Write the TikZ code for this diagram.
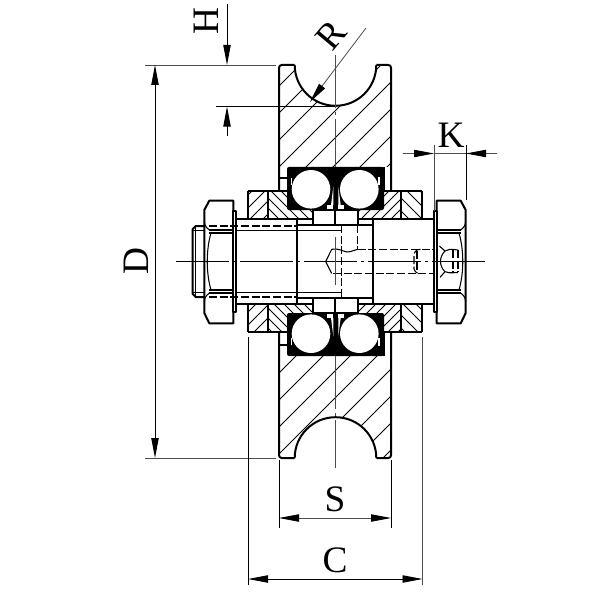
\documentclass[tikz,border=0pt]{standalone}
\usepackage{fontspec}
\setmainfont{Liberation Serif}
\usetikzlibrary{arrows.meta}
\tikzset{part/.style={line width=1.5pt, line join=round}}
\tikzset{thinpart/.style={line width=0.8pt}}
\tikzset{hatchline/.style={line width=0.6pt}}
\tikzset{hidden/.style={line width=0.8pt, dash pattern=on 6pt off 2pt}}
\tikzset{axis/.style={line width=0.6pt, dash pattern=on 40pt off 3pt on 2pt off 3pt}}
\tikzset{dimline/.style={line width=0.6pt, draw=black!70}}
\tikzset{dimblack/.style={line width=0.7pt}}
\tikzset{dimtip/.tip={Stealth[length=15pt, width=5.5pt, inset=0pt, color=black]}}
\tikzset{dimlabel/.style={inner sep=0pt, font=\fontsize{28}{28}\selectfont}}

% region, then direction of the lines, then first, second and last crossing of y=0
\newcommand{\hatchregion}[5]{
	\begin{scope}
		\clip #1;
		\foreach \k in {#3,#4,...,#5} \draw[hatchline] (\k,0) -- ++(#2*600,600);
	\end{scope}
}

% upper half of bearing and shaft, drawn again mirrored
\newcommand{\bearinghalf}{
	\fill[rounded corners=1.5] (287,167) rectangle (384,210);
	\fill[white] (311,189.3) circle[radius=19.3];
	\fill[white] (359.3,189.3) circle[radius=19.3];
	\fill[white] (333.3,186.7) -- (331,205) -- (333.3,205) -- cycle;
	\fill[white] (338.3,186.7) -- (340.7,205) -- (338.3,205) -- cycle;
	\fill[white] (327,205) rectangle (333.3,210);
	\fill[white] (338.3,205) rectangle (344,210);
	\fill[white] (290.6,178) rectangle (291.8,185);
	\fill[white] (378.4,177) rectangle (379.8,185);

	% Ring
	\draw[part] (312.7,210) rectangle (357.7,225);
	\draw[line width=1.8pt] (335,210) -- (335,225);

	% Shaft
	\draw[part] (236.3,219) -- (312.7,219);
	\draw[part] (357.7,219) -- (433.7,219);
	\draw[part] (296.7,219) -- (296.7,261.5);
	\draw[part] (373.3,219) -- (373.3,261.5);
	\draw[thinpart] (296.7,225) -- (373.3,225);
	\draw[thinpart] (192.7,230.7) -- (209,230.7);
	\draw[thinpart] (236.3,230.7) -- (341.7,230.7);

	% Thread end
	\draw[part] (192.7,261.5) -- (192.7,229) -- (195.7,226) -- (209,226);
	\draw[thinpart] (195.7,226) -- (195.7,261.5);
}

\newcommand{\hexnut}{
	\draw[part, fill=white] (233.3,200.7) -- (209.3,200.7) -- (204.3,210) -- (204.3,313) -- (209.3,323.3) -- (233.3,323.3) -- cycle;
	\draw[part, fill=white] (233.3,211) rectangle (236.3,312);
	\draw[thinpart] (204.3,221) .. controls (205,226) .. (209.3,230);
	\draw[thinpart] (204.3,302) .. controls (205,297) .. (209.3,293);
	\draw[part] (209.3,229.7) -- (233.3,229.7);
	\draw[part] (209.3,232.7) -- (233.3,232.7);
	\draw[part] (209.3,290.3) -- (233.3,290.3);
	\draw[part] (209.3,293.3) -- (233.3,293.3);
	\draw[thinpart] (211,233) .. controls (206,250) and (206,273) .. (211,290);
}

\begin{document}
\begin{tikzpicture}[x=0.75pt, y=-0.75pt]
	\useasboundingbox (0,0) rectangle (602,602);

	% Hatching of the wheel
	\hatchregion{(279,65) -- (294.7,65) arc[start angle=180, end angle=0, radius=40.8] -- (391,65) -- (391,167) -- (287,167) -- (287,178) -- (279,178) -- cycle}{-1}{365}{392}{770}
	\hatchregion{(279,458) -- (294.7,458) arc[start angle=180, end angle=360, radius=40.8] -- (391,458) -- (391,356) -- (287,356) -- (287,345) -- (279,345) -- cycle}{-1}{598}{625}{860}

	% Hatching of the spacers
	\foreach \ya/\yb/\yc in {190.7/210/219, 332.3/313/304} {
		\hatchregion{(248,\ya) rectangle (268,\yc)}{-1}{430}{443}{610}
		\hatchregion{(268,\ya) -- (287,\ya) -- (287,\yb) -- (312.7,\yb) -- (312.7,\yc) -- (268,\yc) -- cycle}{1}{-70}{-60}{130}
		\hatchregion{(384,\ya) -- (401,\ya) -- (401,\yc) -- (357.7,\yc) -- (357.7,\yb) -- (384,\yb) -- cycle}{-1}{540}{550}{740}
		\hatchregion{(401,\ya) rectangle (421.7,\yc)}{1}{60}{73}{240}
		\draw[part] (248,\ya) -- (287,\ya);
		\draw[part] (384,\ya) -- (421.7,\ya);
		\draw[part] (248,\ya) -- (248,\yc);
		\draw[part] (268,\ya) -- (268,\yc);
		\draw[part] (401,\ya) -- (401,\yc);
		\draw[part] (421.7,\ya) -- (421.7,\yc);
	}

	% Wheel
	\draw[part, rounded corners=2] (279,190.7) -- (279,65) -- (294.7,65);
	\draw[part] (294.7,65) arc[start angle=180, end angle=0, radius=40.8];
	\draw[part, rounded corners=2] (376.3,65) -- (391,65) -- (391,190.7);
	\draw[part, rounded corners=2] (279,332.3) -- (279,458) -- (294.7,458);
	\draw[part] (294.7,458) arc[start angle=180, end angle=360, radius=40.8];
	\draw[part, rounded corners=2] (376.3,458) -- (391,458) -- (391,332.3);
	\draw[thinpart] (279,178) -- (287,178);
	\draw[thinpart] (279,345) -- (287,345);
	\draw[thinpart] (384,167) -- (384,190.7);
	\draw[thinpart] (384,356) -- (384,332.3);

	% Bearing and shaft
	\bearinghalf
	\begin{scope}[shift={(0,523)}, yscale=-1]
		\bearinghalf
	\end{scope}

	% Nuts
	\hexnut
	\begin{scope}[shift={(670,0)}, xscale=-1]
		\hexnut
	\end{scope}

	% Hidden lines
	\draw[hidden] (209,226) -- (296.7,226);
	\draw[hidden] (209,297) -- (296.7,297);
	\draw[hidden] (341.7,225) -- (341.7,298);
	\draw[hidden] (357.7,225) -- (357.7,249.3);
	\draw[hidden] (357.7,249.3) -- (433.7,249.3);
	\draw[hidden] (333,273.5) -- (433.7,273.5);
	\draw[hidden] (420.5,249.3) .. controls (416,250) .. (414,254) -- (414,269) .. controls (416,273) .. (420.5,273.5);
	\draw[hidden] (417,251) -- (417,272);
	\draw[thinpart] (439.3,246) -- (445,251) .. controls (449,249) .. (458,250);
	\draw[thinpart] (440,277.3) -- (445,271.7) .. controls (449,273) .. (458,272.5);
	\draw[thinpart] (445,251) .. controls (439,257) and (439,266) .. (445,271.7);
	\draw[hidden] (453,250) -- (453,272);
	\draw[hidden] (458,250) -- (458,272);

	% Drill point
	\draw[thinpart] (331.7,249.3) -- (325.7,261.5) -- (331.7,273.5);
	\draw[thinpart] (331.7,249.3) .. controls (338,248) and (342,251) .. (347,252) .. controls (351,252) and (354,250) .. (357.7,249.3);

	% Centre lines
	\draw[axis] (176,261.5) -- (488,261.5);
	\draw[axis, draw=black!70] (335,55) -- (335,167);
	\draw[dimline] (335,237) -- (335,285);
	\draw[axis, draw=black!70] (335,356) -- (335,468);

	% Dimension points
	\coordinate (Htop) at (227,4);				\coordinate (Hend) at (227,65);
	\coordinate (Hlow) at (227,136);			\coordinate (Hstart) at (227,106.6);
	\coordinate (Dtop) at (155,65);				\coordinate (Dlow) at (155,458);
	\coordinate (Rout) at (366,28);				\coordinate (Rtip) at (310,102);
	\coordinate (Kwest) at (403,153.5);			\coordinate (Kleft) at (434,153.5);
	\coordinate (Keast) at (497,153.5);			\coordinate (Kright) at (466,153.5);
	\coordinate (Sleft) at (279,518);			\coordinate (Sright) at (391,518);
	\coordinate (Cleft) at (248,579);			\coordinate (Cright) at (422.5,579);

	% Extension lines
	\draw[dimline] (145,65) -- (276,65);
	\draw[dimline] (145,458) -- (276,458);
	\draw[dimblack] (216,106.6) -- (335,106.6);
	\draw[dimline] (434,145) -- (434,211);
	\draw[dimblack] (466,145) -- (466,200);
	\draw[dimblack] (279,460) -- (279,528);
	\draw[dimblack] (391,460) -- (391,528);
	\draw[dimblack] (248,337) -- (248,585);
	\draw[dimline] (422.5,337) -- (422.5,585);

	% Dimension lines
	\draw[dimblack, -dimtip] (Htop) -- (Hend);
	\draw[dimblack, -dimtip] (Hlow) -- (Hstart);
	\draw[dimblack, dimtip-dimtip] (Dtop) -- (Dlow);
	\draw[dimline, -dimtip] (Rout) -- (Rtip);
	\draw[dimline, -dimtip] (Kwest) -- (Kleft);
	\draw[dimline, -dimtip] (Keast) -- (Kright);
	\draw[dimline] (Kleft) -- (Kright);
	\draw[dimline, dimtip-dimtip] (Sleft) -- (Sright);
	\draw[dimblack, dimtip-dimtip] (Cleft) -- (Cright);

	% Labels
	\node[dimlabel, rotate=90] (labelH) at (206,21.5) {H};
	\node[dimlabel, rotate=50] (labelR) at (331.5,35) {R};
	\node[dimlabel, rotate=90] (labelD) at (136,261.5) {D};
	\node[dimlabel] (labelK) at (451,135) {K};
	\node[dimlabel] (labelS) at (335,499) {S};
	\node[dimlabel] (labelC) at (335,560) {C};
\end{tikzpicture}
\end{document}
